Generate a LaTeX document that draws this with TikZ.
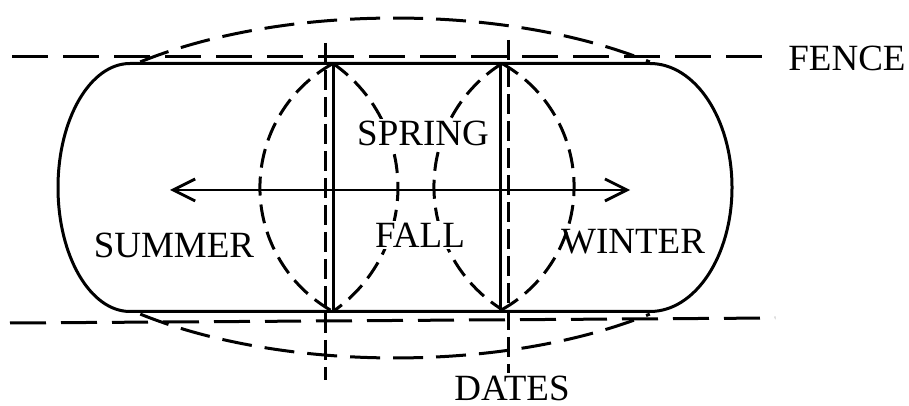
\documentclass[tikz,border=0pt]{standalone}
\usepackage{fontspec}
\setmainfont{Liberation Serif}
\usetikzlibrary{arrows.meta}
\begin{document}
\begin{tikzpicture}[x=1pt,y=1pt,
  solidline/.style={line width=3pt},
  fenceline/.style={line width=3pt, dash pattern=on 36pt off 15pt},
  bigdash/.style={line width=3pt, dash pattern=on 30pt off 13pt},
  datedash/.style={line width=3pt, dash pattern=on 20pt off 7pt},
  lensdash/.style={line width=3pt, dash pattern=on 19pt off 9pt},
  lbl/.style={font=\fontsize{37}{40}\selectfont, inner sep=0pt},
  mask/.style={fill=white, inner sep=2pt}]
\useasboundingbox (0,0) rectangle (909,406);
\fill[white] (0,0) rectangle (909,406);
% key points
\coordinate (TL) at (130,342.5);
\coordinate (TR) at (650,342.5);
\coordinate (BR) at (650,94.5);
\coordinate (BL) at (130,94.5);
\coordinate (L1t) at (333,342.5);
\coordinate (L1b) at (333,94.5);
\coordinate (L2t) at (502,342.5);
\coordinate (L2b) at (502,94.5);
% fences
\coordinate (f1a) at (12,349);
\coordinate (f1b) at (777,349);
\coordinate (f2a) at (10,83);
\coordinate (f2b) at (775,88);
\draw[fenceline] (f1a) -- (f1b);
\draw[fenceline] (f2a) -- (f2b);
% big dashed ellipse (top and bottom arcs)
\coordinate (ea) at (140.3,344.1);
\coordinate (eb) at (140.3,91.9);
\draw[bigdash] (ea) arc[start angle=132.1, end angle=47.9, x radius=380, y radius=170];
\draw[bigdash] (eb) arc[start angle=227.9, end angle=312.1, x radius=380, y radius=170];
% stadium
\draw[solidline] (TL) -- (TR) arc[start angle=90, end angle=-90, x radius=82, y radius=124]
  -- (BL) arc[start angle=270, end angle=90, x radius=72, y radius=124] -- cycle;
% solid verticals
\draw[solidline] (L1t) -- (L1b);
\draw[solidline] (500,342.5) -- (500,94.5);
% date lines
\coordinate (d1a) at (325,363);
\coordinate (d1b) at (325,26);
\coordinate (d2a) at (508,366);
\coordinate (d2b) at (508,33);
\draw[datedash] (d1a) -- (d1b);
\draw[datedash] (d2a) -- (d2b);
% lenses
\draw[lensdash] (L1t) arc[start angle=119, end angle=241, radius=141.8];
\draw[lensdash] (L1t) arc[start angle=55.3, end angle=-55.3, radius=150.8];
\draw[lensdash] (L2t) arc[start angle=122.1, end angle=237.9, radius=145.2];
\draw[lensdash] (L2t) arc[start angle=60.7, end angle=-60.7, radius=141.1];
% arrow
\coordinate (aw) at (170,216);
\coordinate (ae) at (630,216);
\draw[solidline, line width=2.8pt, {Straight Barb[length=22pt,width=22pt]}-{Straight Barb[length=22pt,width=22pt]}] (aw) -- (ae);
% labels
\node[lbl] (fence) at (847,348) {FENCE};
\node[lbl] (dates) at (512,18) {DATES};
\node[lbl, mask] (spring) at (423,273) {SPRING};
\node[lbl, mask] (fall) at (420,171) {FALL};
\node[lbl] (summer) at (174,161) {SUMMER};
\node[lbl] (winter) at (633,164) {WINTER};
\end{tikzpicture}
\end{document}
